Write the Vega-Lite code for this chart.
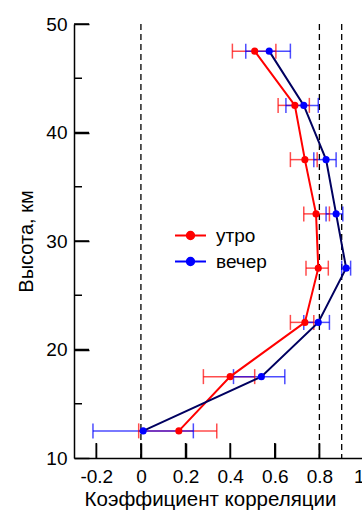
{
  "$schema": "https://vega.github.io/schema/vega-lite/v6.json",
  "autosize": "none",
  "padding": {"left": 74, "top": 24, "right": 0, "bottom": 52},
  "width": 290,
  "height": 434,
  "config": {
    "font": "Liberation Sans",
    "view": {"stroke": null},
    "axis": {
      "grid": false,
      "domainColor": "black",
      "tickColor": "black",
      "labelColor": "black",
      "titleColor": "black",
      "labelFont": "Liberation Sans",
      "titleFont": "Liberation Sans",
      "labelFontSize": 19,
      "titleFontSize": 20,
      "titleFontWeight": "normal",
      "domainWidth": 1.5,
      "tickWidth": 1.5
    }
  },
  "resolve": {"axis": {"x": "independent", "y": "independent"}},
  "data": {
    "values": [
      {"series": "утро", "h": 47.5, "r": 0.51, "lo": 0.41, "hi": 0.605},
      {"series": "утро", "h": 42.5, "r": 0.69, "lo": 0.615, "hi": 0.755},
      {"series": "утро", "h": 37.5, "r": 0.735, "lo": 0.67, "hi": 0.79},
      {"series": "утро", "h": 32.5, "r": 0.785, "lo": 0.73, "hi": 0.845},
      {"series": "утро", "h": 27.5, "r": 0.795, "lo": 0.74, "hi": 0.84},
      {"series": "утро", "h": 22.5, "r": 0.735, "lo": 0.67, "hi": 0.775},
      {"series": "утро", "h": 17.5, "r": 0.4, "lo": 0.28, "hi": 0.51},
      {"series": "утро", "h": 12.5, "r": 0.17, "lo": -0.01, "hi": 0.34},
      {"series": "вечер", "h": 47.5, "r": 0.575, "lo": 0.47, "hi": 0.67},
      {"series": "вечер", "h": 42.5, "r": 0.73, "lo": 0.65, "hi": 0.795},
      {"series": "вечер", "h": 37.5, "r": 0.83, "lo": 0.775, "hi": 0.875},
      {"series": "вечер", "h": 32.5, "r": 0.875, "lo": 0.83, "hi": 0.905},
      {"series": "вечер", "h": 27.5, "r": 0.92, "lo": 0.9, "hi": 0.94},
      {"series": "вечер", "h": 22.5, "r": 0.795, "lo": 0.73, "hi": 0.845},
      {"series": "вечер", "h": 17.5, "r": 0.54, "lo": 0.415, "hi": 0.645},
      {"series": "вечер", "h": 12.5, "r": 0.01, "lo": -0.215, "hi": 0.235}
    ]
  },
  "layer": [
    {
      "data": {"values": [{"ref": 0}, {"ref": 0.8}, {"ref": 0.9}]},
      "mark": {"type": "rule", "color": "black", "strokeDash": [6, 4], "strokeWidth": 1.3},
      "encoding": {
        "x": {
          "field": "ref", "type": "quantitative",
          "scale": {"domain": [-0.3, 1.0], "nice": false, "zero": false},
          "axis": {
            "values": [-0.2, 0, 0.2, 0.4, 0.6, 0.8, 1.0],
            "labelExpr": "datum.value < 0 ? '-' + format(-datum.value, '~g') : format(datum.value, '~g')",
            "tickSize": -15,
            "labelPadding": 24,
            "title": "Коэффициент корреляции",
            "titleFontSize": 20.5,
            "titleX": 136,
            "titlePadding": 3
          }
        }
      }
    },
    {
      "mark": {"type": "rule", "strokeWidth": 1.5, "opacity": 0.7},
      "encoding": {
        "x": {"field": "lo", "type": "quantitative", "axis": null},
        "x2": {"field": "hi"},
        "y": {
          "field": "h", "type": "quantitative",
          "scale": {"domain": [10, 50], "nice": false, "zero": false},
          "axis": {
            "values": [10, 20, 30, 40, 50],
            "tickSize": -15,
            "labelPadding": 22,
            "title": "Высота, км",
            "titlePadding": 9
          }
        },
        "color": {
          "field": "series", "type": "nominal",
          "scale": {"domain": ["утро", "вечер"], "range": ["#ff0000", "#0000ff"]},
          "legend": {
            "orient": "none", "legendX": 107, "legendY": 202, "title": null, "padding": 0,
            "symbolType": "M-2,0H2M-0.48,0A0.48,0.48 0 1,1 0.48,0A0.48,0.48 0 1,1 -0.48,0Z",
            "symbolSize": 240, "symbolStrokeWidth": 2, "symbolOpacity": 1,
            "labelFontSize": 19, "labelFont": "Liberation Sans", "labelColor": "black",
            "rowPadding": 6, "labelOffset": 16,
            "encode": {
              "symbols": {
                "update": {
                  "fill": {"scale": "color", "field": "value"},
                  "stroke": {"signal": "datum.value === 'вечер' ? '#000060' : '#ff0000'"},
                  "opacity": {"value": 1}
                }
              }
            }
          }
        }
      }
    },
    {
      "mark": {"type": "tick", "orient": "vertical", "size": 15, "thickness": 1.5, "opacity": 0.7},
      "encoding": {
        "x": {"field": "lo", "type": "quantitative", "axis": null},
        "y": {"field": "h", "type": "quantitative", "axis": null},
        "color": {"field": "series", "type": "nominal", "legend": null}
      }
    },
    {
      "mark": {"type": "tick", "orient": "vertical", "size": 15, "thickness": 1.5, "opacity": 0.7},
      "encoding": {
        "x": {"field": "hi", "type": "quantitative", "axis": null},
        "y": {"field": "h", "type": "quantitative", "axis": null},
        "color": {"field": "series", "type": "nominal", "legend": null}
      }
    },
    {
      "mark": {"type": "line", "strokeWidth": 2},
      "encoding": {
        "x": {"field": "r", "type": "quantitative", "axis": null},
        "y": {"field": "h", "type": "quantitative", "axis": null},
        "order": {"field": "h", "type": "quantitative"},
        "stroke": {
          "field": "series", "type": "nominal",
          "scale": {"domain": ["утро", "вечер"], "range": ["#ff0000", "#000060"]},
          "legend": null
        }
      }
    },
    {
      "mark": {"type": "circle", "size": 50, "opacity": 1},
      "encoding": {
        "x": {"field": "r", "type": "quantitative", "axis": null},
        "y": {"field": "h", "type": "quantitative", "axis": null},
        "fill": {
          "field": "series", "type": "nominal",
          "scale": {"domain": ["утро", "вечер"], "range": ["#ff0000", "#0000ff"]},
          "legend": null
        }
      }
    },
    {
      "data": {"values": [{"t": -0.2}, {"t": 0}, {"t": 0.2}, {"t": 0.4}, {"t": 0.6}, {"t": 0.8}, {"t": 1.0}]},
      "mark": {"type": "rule", "color": "black", "strokeWidth": 1.5},
      "encoding": {
        "x": {"field": "t", "type": "quantitative", "axis": null},
        "y": {"value": 434},
        "y2": {"value": 419}
      }
    },
    {
      "data": {"values": [{"t": 20}, {"t": 30}, {"t": 40}, {"t": 50}]},
      "mark": {"type": "rule", "color": "black", "strokeWidth": 1.5},
      "encoding": {
        "x": {"value": 0},
        "x2": {"value": 15},
        "y": {"field": "t", "type": "quantitative", "axis": null}
      }
    },
    {
      "data": {"values": [{"t": 15}, {"t": 25}, {"t": 35}, {"t": 45}]},
      "mark": {"type": "rule", "color": "black", "strokeWidth": 1.5},
      "encoding": {
        "x": {"value": 0},
        "x2": {"value": 8},
        "y": {"field": "t", "type": "quantitative", "axis": null}
      }
    }
  ]
}
